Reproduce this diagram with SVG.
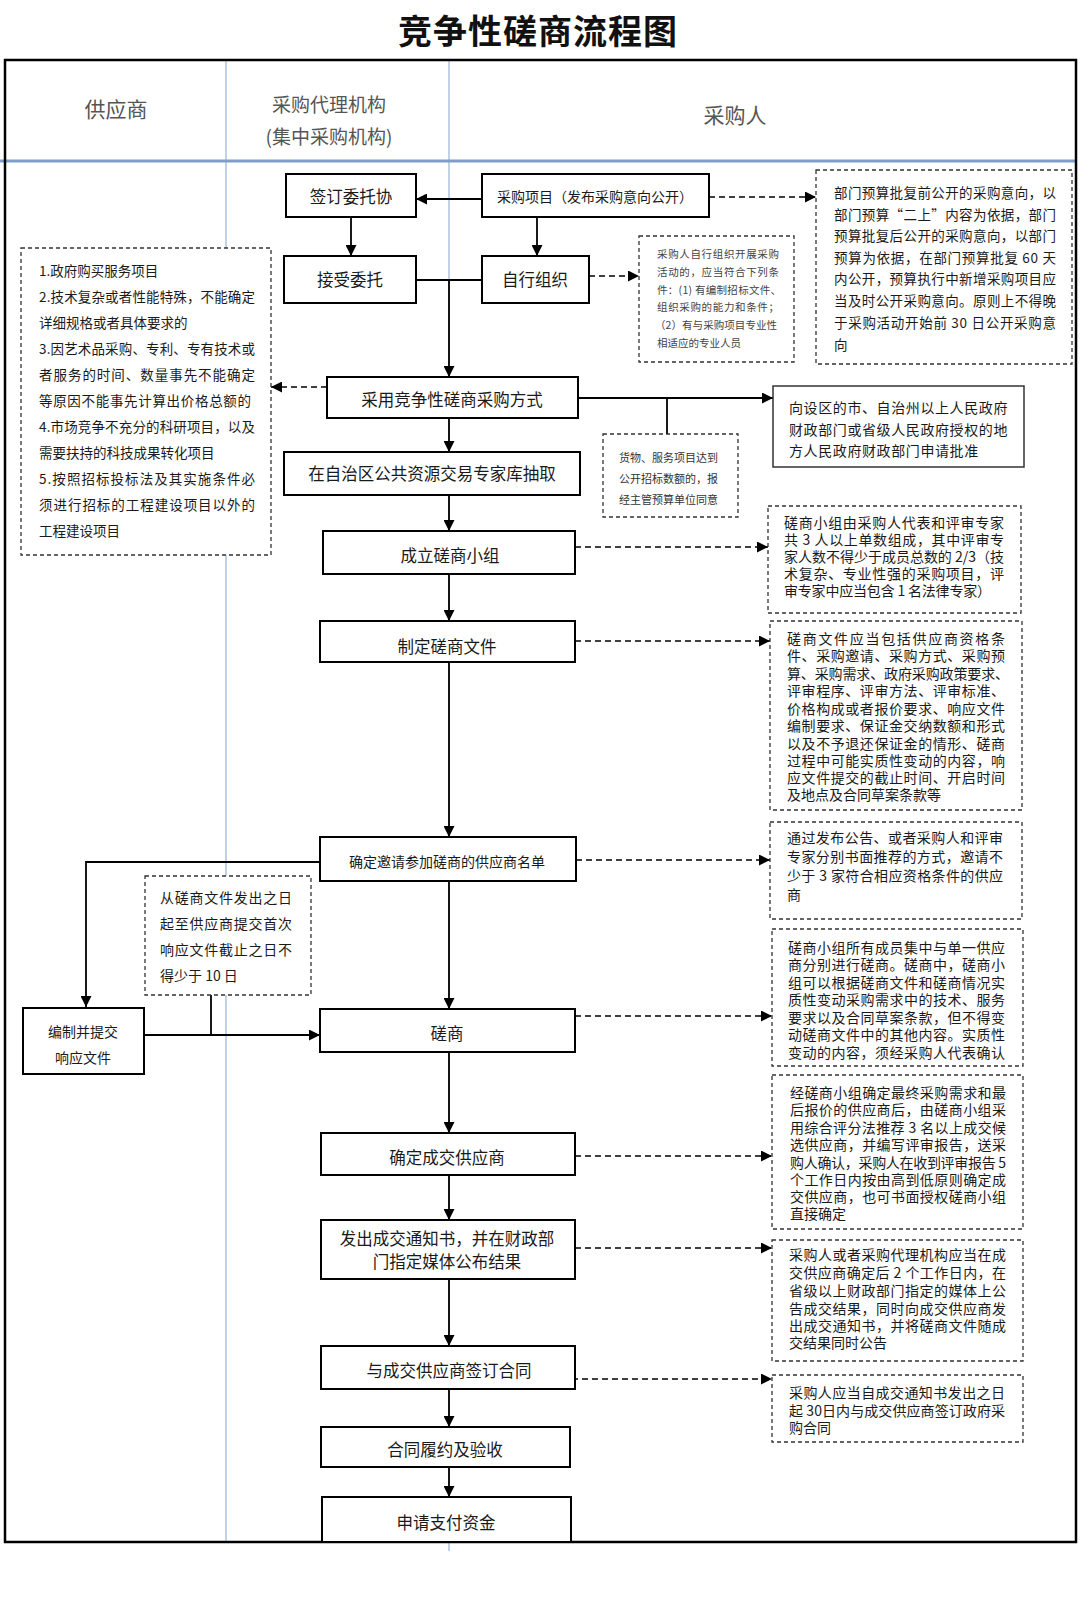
<svg xmlns="http://www.w3.org/2000/svg" width="1080" height="1620" viewBox="0 0 1080 1620">
<defs>
<marker id="ah" viewBox="0 0 10 10" refX="10" refY="5" markerWidth="11" markerHeight="11" markerUnits="userSpaceOnUse" orient="auto"><path d="M0,0 L10,5 L0,10 z" fill="#000"/></marker>
<style>
text{font-family:"Noto Sans CJK SC","Noto Sans",sans-serif;fill:#1a1a1a;dominant-baseline:central}
.title{font-size:34px;font-weight:700;text-anchor:middle;letter-spacing:1px;fill:#111}
.hd{font-size:21px;text-anchor:middle;fill:#555}
.hd2{font-size:19px;text-anchor:middle;fill:#555}
.node rect{fill:#fff;stroke:#000;stroke-width:2}
.node text{font-size:16.5px;text-anchor:middle}
.node text.s{font-size:14px}
.note rect{fill:#fff;stroke:#333;stroke-width:1.3;stroke-dasharray:4 3}
.note text{font-size:14px}
.note text.xs{font-size:10.5px;fill:#444}
.note text.sm{font-size:11px;fill:#333}
.note text.l{font-size:13.5px}
.box rect{fill:#fff;stroke:#333;stroke-width:1.5}
.box text{font-size:14px;letter-spacing:0.6px}
.lane{stroke:#9ab3d5;stroke-width:1.2;fill:none}
.c path{fill:none;stroke:#000;stroke-width:1.8}
.c path.d{stroke-dasharray:6 4;stroke-width:1.6}
</style>
</defs>
<rect x="0" y="0" width="1080" height="1620" fill="#fff"/>
<text class="title" x="538" y="29">竞争性磋商流程图</text>
<g id="lanes">
<line class="lane" x1="226" y1="60" x2="226" y2="1542"/>
<line class="lane" x1="449" y1="60" x2="449" y2="1551"/>
<line x1="0" y1="161" x2="1076" y2="161" stroke="#7f9fc8" stroke-width="3"/>
<rect x="5" y="60" width="1071" height="1482" fill="none" stroke="#000" stroke-width="2.5"/>
<text class="hd" x="116" y="108">供应商</text>
<text class="hd2" x="329" y="103">采购代理机构</text>
<text class="hd2" x="329" y="135">(集中采购机构)</text>
<text class="hd" x="735" y="114">采购人</text>
</g>
<g id="connectors" class="c">
<path d="M482,199 L416,199" marker-end="url(#ah)"/>
<path d="M351,217 L351,256" marker-end="url(#ah)"/>
<path d="M537,217 L537,256" marker-end="url(#ah)"/>
<path d="M416,280 L482,280"/>
<path d="M449,280 L449,377" marker-end="url(#ah)"/>
<path class="d" d="M709,197 L816,197" marker-end="url(#ah)"/>
<path class="d" d="M589,276 L639,276" marker-end="url(#ah)"/>
<path class="d" d="M327,387 L271,387" marker-end="url(#ah)"/>
<path d="M578,398 L773,398" marker-end="url(#ah)"/>
<path d="M667,398 L667,434"/>
<path d="M449,418 L449,452" marker-end="url(#ah)"/>
<path d="M449,495 L449,531" marker-end="url(#ah)"/>
<path class="d" d="M575,547 L768,547" marker-end="url(#ah)"/>
<path d="M449,574 L449,621" marker-end="url(#ah)"/>
<path class="d" d="M575,641 L770,641" marker-end="url(#ah)"/>
<path d="M449,662 L449,837" marker-end="url(#ah)"/>
<path class="d" d="M576,860 L770,860" marker-end="url(#ah)"/>
<path d="M320,862 L86,862 L86,1007" marker-end="url(#ah)"/>
<path d="M449,881 L449,1009" marker-end="url(#ah)"/>
<path d="M144,1035 L320,1035" marker-end="url(#ah)"/>
<path d="M211,995 L211,1035"/>
<path class="d" d="M575,1016 L772,1016" marker-end="url(#ah)"/>
<path d="M449,1052 L449,1133" marker-end="url(#ah)"/>
<path class="d" d="M575,1156 L772,1156" marker-end="url(#ah)"/>
<path d="M449,1175 L449,1220" marker-end="url(#ah)"/>
<path class="d" d="M575,1248 L772,1248" marker-end="url(#ah)"/>
<path d="M449,1279 L449,1346" marker-end="url(#ah)"/>
<path class="d" d="M572,1379 L772,1379" marker-end="url(#ah)"/>
<path d="M449,1389 L449,1427" marker-end="url(#ah)"/>
<path d="M449,1467 L449,1497" marker-end="url(#ah)"/>
</g>
<g id="n-sign" class="node"><rect x="286" y="174" width="130" height="43"/><text x="351" y="196">签订委托协</text></g>
<g id="n-project" class="node"><rect x="482" y="174" width="227" height="43"/><text class="s" x="595" y="196">采购项目（发布采购意向公开）</text></g>
<g id="n-accept" class="node"><rect x="284" y="256" width="132" height="47"/><text x="350" y="279">接受委托</text></g>
<g id="n-self" class="node"><rect x="482" y="256" width="107" height="47"/><text x="535" y="279">自行组织</text></g>
<g id="n-adopt" class="node"><rect x="327" y="377" width="251" height="41"/><text x="452" y="399">采用竞争性磋商采购方式</text></g>
<g id="n-draw" class="node"><rect x="284" y="452" width="296" height="43"/><text x="432" y="473">在自治区公共资源交易专家库抽取</text></g>
<g id="n-team" class="node"><rect x="323" y="531" width="252" height="43"/><text x="450" y="555">成立磋商小组</text></g>
<g id="n-doc" class="node"><rect x="320" y="621" width="255" height="41"/><text x="447" y="646">制定磋商文件</text></g>
<g id="n-list" class="node"><rect x="320" y="837" width="256" height="44"/><text class="s" x="447" y="861">确定邀请参加磋商的供应商名单</text></g>
<g id="n-resp" class="node"><rect x="23" y="1008" width="121" height="66"/><text class="s" x="83" y="1031">编制并提交</text><text class="s" x="83" y="1057">响应文件</text></g>
<g id="n-nego" class="node"><rect x="320" y="1009" width="255" height="43"/><text x="447" y="1033">磋商</text></g>
<g id="n-deal" class="node"><rect x="321" y="1133" width="254" height="42"/><text x="447" y="1157">确定成交供应商</text></g>
<g id="n-notice" class="node"><rect x="321" y="1220" width="254" height="59"/><text x="447" y="1238">发出成交通知书，并在财政部</text><text x="447" y="1261">门指定媒体公布结果</text></g>
<g id="n-contract" class="node"><rect x="321" y="1346" width="254" height="43"/><text x="449" y="1370">与成交供应商签订合同</text></g>
<g id="n-accept2" class="node"><rect x="321" y="1427" width="249" height="40"/><text x="445" y="1449">合同履约及验收</text></g>
<g id="n-pay" class="node"><rect x="322" y="1497" width="249" height="45"/><text x="446" y="1522">申请支付资金</text></g>
<g id="note-intent" class="note"><rect x="816" y="170" width="256" height="194"/>
<text class="l" x="834" y="192" textLength="222" lengthAdjust="spacing">部门预算批复前公开的采购意向，以</text>
<text class="l" x="834" y="214" textLength="222" lengthAdjust="spacing">部门预算“二上”内容为依据，部门</text>
<text class="l" x="834" y="235" textLength="222" lengthAdjust="spacing">预算批复后公开的采购意向，以部门</text>
<text class="l" x="834" y="257" textLength="222" lengthAdjust="spacing">预算为依据，在部门预算批复 60 天</text>
<text class="l" x="834" y="278" textLength="222" lengthAdjust="spacing">内公开，预算执行中新增采购项目应</text>
<text class="l" x="834" y="300" textLength="222" lengthAdjust="spacing">当及时公开采购意向。原则上不得晚</text>
<text class="l" x="834" y="322" textLength="222" lengthAdjust="spacing">于采购活动开始前 30 日公开采购意</text>
<text class="l" x="834" y="344">向</text></g>
<g id="note-self" class="note"><rect x="639" y="236" width="155" height="126"/>
<text class="xs" x="657" y="253" textLength="122" lengthAdjust="spacing">采购人自行组织开展采购</text>
<text class="xs" x="657" y="271" textLength="122" lengthAdjust="spacing">活动的，应当符合下列条</text>
<text class="xs" x="657" y="289" textLength="124" lengthAdjust="spacing">件：(1) 有编制招标文件、</text>
<text class="xs" x="657" y="306" textLength="122" lengthAdjust="spacing">组织采购的能力和条件；</text>
<text class="xs" x="655" y="324" textLength="122" lengthAdjust="spacing">（2）有与采购项目专业性</text>
<text class="xs" x="657" y="342">相适应的专业人员</text></g>
<g id="note-cases" class="note"><rect x="21" y="248" width="250" height="307"/>
<text class="l" x="39" y="270">1.政府购买服务项目</text>
<text class="l" x="39" y="296" textLength="216" lengthAdjust="spacing">2.技术复杂或者性能特殊，不能确定</text>
<text class="l" x="39" y="322">详细规格或者具体要求的</text>
<text class="l" x="39" y="348" textLength="216" lengthAdjust="spacing">3.因艺术品采购、专利、专有技术或</text>
<text class="l" x="39" y="374" textLength="216" lengthAdjust="spacing">者服务的时间、数量事先不能确定</text>
<text class="l" x="39" y="400" textLength="212" lengthAdjust="spacing">等原因不能事先计算出价格总额的</text>
<text class="l" x="39" y="426" textLength="216" lengthAdjust="spacing">4.市场竞争不充分的科研项目，以及</text>
<text class="l" x="39" y="452">需要扶持的科技成果转化项目</text>
<text class="l" x="39" y="478" textLength="216" lengthAdjust="spacing">5.按照招标投标法及其实施条件必</text>
<text class="l" x="39" y="504" textLength="216" lengthAdjust="spacing">须进行招标的工程建设项目以外的</text>
<text class="l" x="39" y="530">工程建设项目</text></g>
<g id="box-approve" class="box"><rect x="773" y="386" width="251" height="81"/>
<text x="789" y="407">向设区的市、自治州以上人民政府</text>
<text x="789" y="429">财政部门或省级人民政府授权的地</text>
<text x="789" y="450">方人民政府财政部门申请批准</text></g>
<g id="note-goods" class="note"><rect x="603" y="434" width="135" height="83"/>
<text class="sm" x="619" y="457">货物、服务项目达到</text>
<text class="sm" x="619" y="478">公开招标数额的，报</text>
<text class="sm" x="619" y="499">经主管预算单位同意</text></g>
<g id="note-team" class="note"><rect x="768" y="506" width="253" height="107"/>
<text x="784" y="522" textLength="220" lengthAdjust="spacing">磋商小组由采购人代表和评审专家</text>
<text x="784" y="539" textLength="220" lengthAdjust="spacing">共 3 人以上单数组成，其中评审专</text>
<text x="784" y="556" textLength="220" lengthAdjust="spacing">家人数不得少于成员总数的 2/3（技</text>
<text x="784" y="573" textLength="220" lengthAdjust="spacing">术复杂、专业性强的采购项目，评</text>
<text x="784" y="590" textLength="207" lengthAdjust="spacing">审专家中应当包含 1 名法律专家）</text></g>
<g id="note-doc" class="note"><rect x="770" y="621" width="252" height="189"/>
<text x="787" y="638" textLength="218" lengthAdjust="spacing">磋商文件应当包括供应商资格条</text>
<text x="787" y="655" textLength="218" lengthAdjust="spacing">件、采购邀请、采购方式、采购预</text>
<text x="787" y="673" textLength="222" lengthAdjust="spacing">算、采购需求、政府采购政策要求、</text>
<text x="787" y="690" textLength="218" lengthAdjust="spacing">评审程序、评审方法、评审标准、</text>
<text x="787" y="708" textLength="218" lengthAdjust="spacing">价格构成或者报价要求、响应文件</text>
<text x="787" y="725" textLength="218" lengthAdjust="spacing">编制要求、保证金交纳数额和形式</text>
<text x="787" y="743" textLength="218" lengthAdjust="spacing">以及不予退还保证金的情形、磋商</text>
<text x="787" y="760" textLength="218" lengthAdjust="spacing">过程中可能实质性变动的内容，响</text>
<text x="787" y="777" textLength="218" lengthAdjust="spacing">应文件提交的截止时间、开启时间</text>
<text x="787" y="794">及地点及合同草案条款等</text></g>
<g id="note-invite" class="note"><rect x="770" y="822" width="252" height="97"/>
<text x="787" y="837" textLength="216" lengthAdjust="spacing">通过发布公告、或者采购人和评审</text>
<text x="787" y="856" textLength="216" lengthAdjust="spacing">专家分别书面推荐的方式，邀请不</text>
<text x="787" y="875" textLength="216" lengthAdjust="spacing">少于 3 家符合相应资格条件的供应</text>
<text x="787" y="894">商</text></g>
<g id="note-days" class="note"><rect x="145" y="876" width="166" height="119"/>
<text x="160" y="897" textLength="132" lengthAdjust="spacing">从磋商文件发出之日</text>
<text x="160" y="923" textLength="132" lengthAdjust="spacing">起至供应商提交首次</text>
<text x="160" y="949" textLength="132" lengthAdjust="spacing">响应文件截止之日不</text>
<text x="160" y="975">得少于 10 日</text></g>
<g id="note-nego" class="note"><rect x="772" y="929" width="251" height="137"/>
<text x="788" y="947" textLength="217" lengthAdjust="spacing">磋商小组所有成员集中与单一供应</text>
<text x="788" y="964" textLength="217" lengthAdjust="spacing">商分别进行磋商。磋商中，磋商小</text>
<text x="788" y="982" textLength="217" lengthAdjust="spacing">组可以根据磋商文件和磋商情况实</text>
<text x="788" y="999" textLength="217" lengthAdjust="spacing">质性变动采购需求中的技术、服务</text>
<text x="788" y="1017" textLength="217" lengthAdjust="spacing">要求以及合同草案条款，但不得变</text>
<text x="788" y="1034" textLength="217" lengthAdjust="spacing">动磋商文件中的其他内容。实质性</text>
<text x="788" y="1052" textLength="217" lengthAdjust="spacing">变动的内容，须经采购人代表确认</text></g>
<g id="note-deal" class="note"><rect x="772" y="1075" width="251" height="154"/>
<text x="790" y="1092" textLength="216" lengthAdjust="spacing">经磋商小组确定最终采购需求和最</text>
<text x="790" y="1109" textLength="216" lengthAdjust="spacing">后报价的供应商后，由磋商小组采</text>
<text x="790" y="1127" textLength="216" lengthAdjust="spacing">用综合评分法推荐 3 名以上成交候</text>
<text x="790" y="1144" textLength="216" lengthAdjust="spacing">选供应商，并编写评审报告，送采</text>
<text x="790" y="1162" textLength="216" lengthAdjust="spacing">购人确认，采购人在收到评审报告 5</text>
<text x="790" y="1179" textLength="216" lengthAdjust="spacing">个工作日内按由高到低原则确定成</text>
<text x="790" y="1196" textLength="216" lengthAdjust="spacing">交供应商，也可书面授权磋商小组</text>
<text x="790" y="1213">直接确定</text></g>
<g id="note-notice" class="note"><rect x="772" y="1240" width="251" height="121"/>
<text x="789" y="1254" textLength="217" lengthAdjust="spacing">采购人或者采购代理机构应当在成</text>
<text x="789" y="1272" textLength="217" lengthAdjust="spacing">交供应商确定后 2 个工作日内，在</text>
<text x="789" y="1290" textLength="217" lengthAdjust="spacing">省级以上财政部门指定的媒体上公</text>
<text x="789" y="1308" textLength="217" lengthAdjust="spacing">告成交结果，同时向成交供应商发</text>
<text x="789" y="1325" textLength="217" lengthAdjust="spacing">出成交通知书，并将磋商文件随成</text>
<text x="789" y="1342">交结果同时公告</text></g>
<g id="note-contract" class="note"><rect x="772" y="1375" width="251" height="67"/>
<text x="789" y="1392" textLength="216" lengthAdjust="spacing">采购人应当自成交通知书发出之日</text>
<text x="789" y="1410" textLength="216" lengthAdjust="spacing">起 30日内与成交供应商签订政府采</text>
<text x="789" y="1427">购合同</text></g>
</svg>
